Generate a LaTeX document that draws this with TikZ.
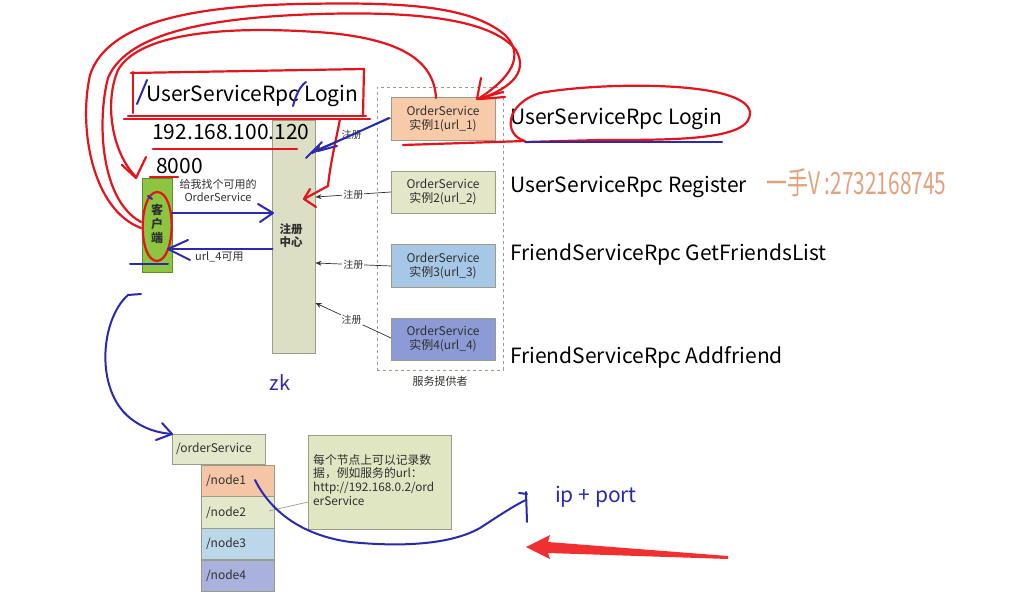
\documentclass[tikz,border=0pt]{standalone}
\usepackage{fontspec}
\setmainfont{Noto Sans CJK SC}
\usetikzlibrary{arrows.meta,calc}
\definecolor{penred}{HTML}{E3141C}
\definecolor{penblue}{HTML}{2A2AB0}
\definecolor{boxline}{HTML}{9A9C88}
\definecolor{txt}{HTML}{303030}
\definecolor{fillA}{HTML}{F7CBA9}
\definecolor{fillB}{HTML}{E4E6C8}
\definecolor{fillC}{HTML}{A6C8E6}
\definecolor{fillD}{HTML}{8C9AD5}
\definecolor{fillReg}{HTML}{DCDFC4}
\definecolor{fillCli}{HTML}{8DC540}
\definecolor{lineCli}{HTML}{5E8E2E}
\definecolor{fillN1}{HTML}{F4C6A6}
\definecolor{fillN2}{HTML}{E3E8CB}
\definecolor{fillN3}{HTML}{BCD6EA}
\definecolor{fillN4}{HTML}{A9B1DD}
\definecolor{fillCall}{HTML}{E0E5C2}
\definecolor{wmark}{HTML}{E2A27E}
\definecolor{arrowred}{HTML}{F03030}
\begin{document}
\begin{tikzpicture}[x=1pt,y=-1pt,
  box/.style={draw=boxline, line width=0.8pt, inner sep=0pt, outer sep=0pt, text=txt, align=center},
  svc/.style={box, minimum width=104pt, minimum height=43pt, font=\fontsize{12}{14}\selectfont},
  tree/.style={box, minimum width=73pt, minimum height=31.5pt, font=\fontsize{12}{14}\selectfont, text width=63pt, align=left},
  reglabel/.style={fill=white, inner sep=1pt, font=\fontsize{10}{10}\selectfont, text=txt},
  regarrow/.style={draw=txt, line width=0.7pt, -{Stealth[length=6pt,width=5pt]}},
  redpen/.style={draw=penred, line width=2.2pt, line cap=round, line join=round},
  bluepen/.style={draw=penblue, line width=2pt, line cap=round, line join=round},
  big/.style={font=\fontsize{21}{21}\selectfont, text=black, inner sep=0pt, anchor=west},
  small/.style={font=\fontsize{11}{13}\selectfont, text=txt, inner sep=0pt, align=center}
]
\useasboundingbox[fill=white] (0,0) rectangle (1019,612);

% ---------- main boxes ----------
\node[draw=boxline, dashed, line width=0.8pt, minimum width=126pt, minimum height=283pt, inner sep=0pt] (prov) at (440,228.5) {};
\node[small, anchor=north] (provlbl) at (440,376) {服务提供者};

\node[box, fill=fillReg, minimum width=43pt, minimum height=233pt] (reg) at (294,236.5) {};
\node[font=\bfseries\fontsize{11.5}{13}\selectfont, text=txt, align=center, inner sep=0pt] (regtxt) at (291,236) {注册\\中心};

\node[box, draw=lineCli, fill=fillCli, minimum width=30pt, minimum height=94pt] (cli) at (157,225) {};
\node[font=\bfseries\fontsize{12}{14}\selectfont, text=txt, align=center, inner sep=0pt] (clitxt) at (157,224) {客\\户\\端};

\node[svc, fill=fillA] (s1) at (443,118.5) {OrderService\\实例1(url\_1)};
\node[svc, fill=fillB, minimum height=42pt] (s2) at (443,192) {OrderService\\实例2(url\_2)};
\node[svc, fill=fillC] (s3) at (443,265.5) {OrderService\\实例3(url\_3)};
\node[svc, fill=fillD, minimum height=42pt] (s4) at (443,339) {OrderService\\实例4(url\_4)};

% registration arrows
\draw[regarrow] (391,118) -- node[reglabel, pos=0.52]{注册} (reg.east |- 0,150);
\draw[regarrow] (s2.west) -- node[reglabel]{注册} (reg.east |- 0,197);
\draw[regarrow] (391,266) -- node[reglabel]{注册} (reg.east |- 0,263);
\draw[regarrow] (391,338) -- node[reglabel, pos=0.52]{注册} (reg.east |- 0,303);

% client texts
\node[small] (ask) at (218,190.5) {给我找个可用的\\OrderService};
\node[small, anchor=west] (avail) at (195,257) {url\_4可用};

% left texts
\node[big] (path) at (146,96) {UserServiceRpc Login};
\node[big] (ip) at (152,132) {192.168.100.120};
\node[big] (port) at (156,166) {8000};

% right texts
\node[big] (r1) at (510,119) {UserServiceRpc Login};
\node[big] (r2) at (510,187) {UserServiceRpc Register};
\node[big] (r3) at (510,255) {FriendServiceRpc GetFriendsList};
\node[big] (r4) at (510,357) {FriendServiceRpc Addfriend};
\node[anchor=west, inner sep=0pt, text=wmark] (wm) at (766,183) {\scalebox{0.95}[1.4]{\fontsize{22}{22}\selectfont 一手V :2732168745}};

\node[font=\fontsize{20}{20}\selectfont, text=penblue, inner sep=0pt] (zk) at (280,383) {zk};

% ---------- tree ----------
\node[box, fill=fillN2, minimum width=93pt, minimum height=30pt, font=\fontsize{12}{14}\selectfont, text width=85pt, align=left] (os) at (218.5,449) {/orderService};
\node[tree, fill=fillN1] (n1) at (237.5,481) {/node1};
\node[tree, fill=fillN2] (n2) at (237.5,512.5) {/node2};
\node[tree, fill=fillN3] (n3) at (237.5,544) {/node3};
\node[tree, fill=fillN4] (n4) at (237.5,576) {/node4};

\node[box, fill=fillCall, minimum width=143pt, minimum height=94pt] (call) at (379.5,482) {};
\node[font=\fontsize{11.8}{13.7}\selectfont, text=txt, align=left, anchor=north west, inner sep=0pt] (calltxt) at (313,454) {每个节点上可以记录数\\据，例如服务的url：\\http://192.168.0.2/ord\\erService};
\draw[draw=boxline, line width=0.7pt] (call.west |- 0,502) -- ($(n2.east)+(-5,-1.5)$);

\node[font=\fontsize{21}{21}\selectfont, text=penblue, inner sep=0pt, anchor=west] (ipport) at (555,497) {ip + port};

% ---------- red pen ----------
% rectangle around path
\draw[redpen] (131,73) -- (364,69) -- (363,115);
\draw[redpen] (133,72) -- (133,113);
\draw[redpen] (128,116) -- (366,116);
\draw[redpen] (124,119) -- (370,119);
% underlines
\draw[redpen] (153,149) -- (297,149);
\draw[redpen] (150,177) -- (178,177);
% arrow down into registration center
\draw[redpen] (340,119) .. controls (336,140) and (330,165) .. (328,186) -- (304,199);
\draw[redpen] (310,189) -- (304,199) -- (316,207);
% ellipse round client
\draw[redpen] (157,192) .. controls (177,192) and (176,260) .. (157,261) .. controls (138,261) and (138,193) .. (157,192);
% loops
\draw[redpen] (436,98) .. controls (434,60) and (400,40) .. (330,33) .. controls (230,25) and (140,32) .. (118,70) .. controls (105,100) and (110,150) .. (136,177);
\draw[redpen] (122,165) -- (136,178) -- (146,157);
\draw[redpen] (141,228) .. controls (93,210) and (78,130) .. (90,75) .. controls (108,20) and (200,6) .. (300,4) .. controls (400,2) and (470,5) .. (505,35) .. controls (530,60) and (500,85) .. (478,99);
\draw[redpen] (141,222) .. controls (100,200) and (97,120) .. (108,78) .. controls (128,30) and (220,17) .. (320,14) .. controls (420,11) and (492,20) .. (516,50) .. controls (530,75) and (505,90) .. (480,99);
\draw[redpen] (481,78) -- (477,99) -- (503,92);
% ellipse round right Login + line under instance 1
\draw[redpen] (403,145) -- (525,141) .. controls (503,135) and (505,104) .. (540,93) .. controls (600,82) and (745,80) .. (750,112) .. controls (752,140) and (680,140) .. (600,140) -- (526,142);
\draw[redpen] (480,99) -- (505,97);

% ---------- blue pen ----------
\draw[bluepen] (137,104) -- (147,80);
\draw[bluepen] (293,106) .. controls (296,95) and (300,86) .. (306,82);
\draw[bluepen] (389,118) -- (312,153);
\draw[bluepen] (337,146) -- (318,151);
\draw[bluepen] (306,158) -- (322,142);
\draw[bluepen] (cli.east |- 0,213) -- (reg.west |- 0,213);
\draw[bluepen] (258,204) -- (273,213) -- (260,222);
\draw[bluepen] (reg.west |- 0,249) -- (cli.east |- 0,249);
\draw[bluepen] (188,240) -- (168,249) -- (190,260);
\draw[bluepen] (130,264) -- (168,264);
\draw[bluepen] (148,196) -- (152,199);
\draw[bluepen] (525,142) -- (722,142);
% curve from client to tree
\draw[bluepen] (141,294) -- (128,295) .. controls (100,320) and (95,390) .. (130,418) .. controls (145,430) and (160,433) .. (os.north west);
\draw[bluepen] (162,423) -- (os.north west) -- (156,440);
% curve from node1 to ip + port
\draw[bluepen] (255,480) .. controls (270,510) and (300,535) .. (350,542) .. controls (400,547) and (450,545) .. (480,528) .. controls (500,515) and (515,505) .. (526,500);
\draw[bluepen] (526,492) -- (527,522);
\draw[bluepen] (519,493) -- (527,494);

% ---------- red filled arrow ----------
\fill[arrowred] (526,547) -- (550,535) -- (548,542) -- (728,556) -- (728,559) -- (548,553) -- (550,559) -- cycle;
\end{tikzpicture}
\end{document}
